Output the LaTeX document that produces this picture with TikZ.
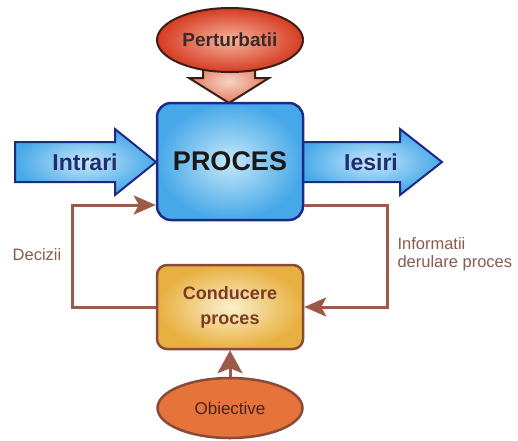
\documentclass[tikz,border=0pt]{standalone}
\usepackage{fontspec}
\setmainfont{Liberation Sans}
\usetikzlibrary{arrows.meta,shapes.geometric}

\definecolor{navy}{HTML}{1C2A86}
\definecolor{navytext}{HTML}{232C6E}
\definecolor{skyout}{HTML}{46A8E8}
\definecolor{skyin}{HTML}{C6E8FA}
\definecolor{redout}{HTML}{D63A22}
\definecolor{redin}{HTML}{F6B59C}
\definecolor{salmonout}{HTML}{E47A5E}
\definecolor{salmonin}{HTML}{F8D2C4}
\definecolor{darkrim}{HTML}{3A1E18}
\definecolor{goldout}{HTML}{E8B040}
\definecolor{goldin}{HTML}{FBF0CC}
\definecolor{brownrim}{HTML}{8A4A38}
\definecolor{linkbrown}{HTML}{9C5A48}
\definecolor{orangefill}{HTML}{E5733A}
\definecolor{labelbrown}{HTML}{8A5A4E}
\definecolor{mgmttext}{HTML}{7B3A26}
\definecolor{perttext}{HTML}{3A2A28}
\definecolor{goaltext}{HTML}{4A2418}

\tikzset{
  blockarrow/.style={draw=navy, line width=2pt, line join=miter,
    inner color=skyin, outer color=skyout},
  flowtext/.style={text=navytext, font=\bfseries\fontsize{23}{26}\selectfont},
  procbox/.style={draw=navy, line width=2.5pt, rounded corners=14pt,
    inner color=skyin, outer color=skyout,
    minimum width=146pt, minimum height=117pt,
    font=\bfseries\fontsize{27}{30}\selectfont, text=black!90},
  mgmtbox/.style={draw=brownrim, line width=2.5pt, rounded corners=10pt,
    inner color=goldin, outer color=goldout,
    minimum width=146pt, minimum height=84pt, align=center,
    font=\bfseries\fontsize{18}{25}\selectfont, text=mgmttext},
  disturb/.style={ellipse, draw=darkrim, line width=2pt,
    inner color=redin, outer color=redout,
    minimum width=146pt, minimum height=64pt,
    font=\bfseries\fontsize{19}{22}\selectfont, text=perttext},
  goal/.style={ellipse, draw=brownrim, line width=2.5pt, fill=orangefill,
    minimum width=145pt, minimum height=60pt,
    font=\fontsize{17}{20}\selectfont, text=goaltext},
  link/.style={draw=linkbrown, line width=3pt, line join=miter,
    -{Stealth[length=22pt,width=19pt,inset=5pt]}},
  widelink/.style={link, -{Stealth[length=23pt,width=25pt,inset=5pt]}},
  sidelabel/.style={text=labelbrown, font=\fontsize{16.5}{18}\selectfont}
}

\begin{document}
\begin{tikzpicture}[x=1pt,y=-1pt]
\useasboundingbox (0,0) rectangle (518,440);

% input and output block arrows
\shade[blockarrow] (15,142) -- (115,142) -- (115,129) -- (156,162)
  -- (115,195) -- (115,182) -- (15,182) -- cycle;
\shade[blockarrow] (300,142) -- (400,142) -- (400,129) -- (442,162)
  -- (400,195) -- (400,182) -- (300,182) -- cycle;

% disturbance arrow pointing down onto the process
\shade[draw=darkrim, line width=2pt, line join=miter,
  inner color=salmonin, outer color=salmonout]
  (203,60) -- (255,60) -- (255,78) -- (269,78) -- (229,103)
  -- (189,78) -- (203,78) -- cycle;

% main blocks
\node[disturb] (pert) at (230,40) {Perturbatii};
\node[procbox] (proc) at (230,161.5) {PROCES};
\node[mgmtbox] (cond) at (230,307) {Conducere\\proces};
\node[goal] (obj) at (230,408) {Obiective};

% texts on the block arrows
\node[flowtext] (in) at (85,162) {Intrari};
\node[flowtext] (out) at (371,162) {Iesiri};

% feedback loop
\coordinate (lbot) at (72,307);
\coordinate (ltop) at (72,205);
\coordinate (rtop) at (387,205);
\coordinate (rbot) at (387,307);
\draw[link] (cond.west) -- (lbot) -- (ltop) -- (ltop -| proc.west);
\draw[link] (proc.east |- rtop) -- (rtop) -- (rbot) -- (cond.east);
\draw[widelink] (obj.north) -- (cond.south);

% loop labels
\node[sidelabel] (dec) at (37,255) {Decizii};
\node[sidelabel, anchor=west, align=left] (info) at (394,254)
  {Informatii\\derulare proces};
\end{tikzpicture}
\end{document}
